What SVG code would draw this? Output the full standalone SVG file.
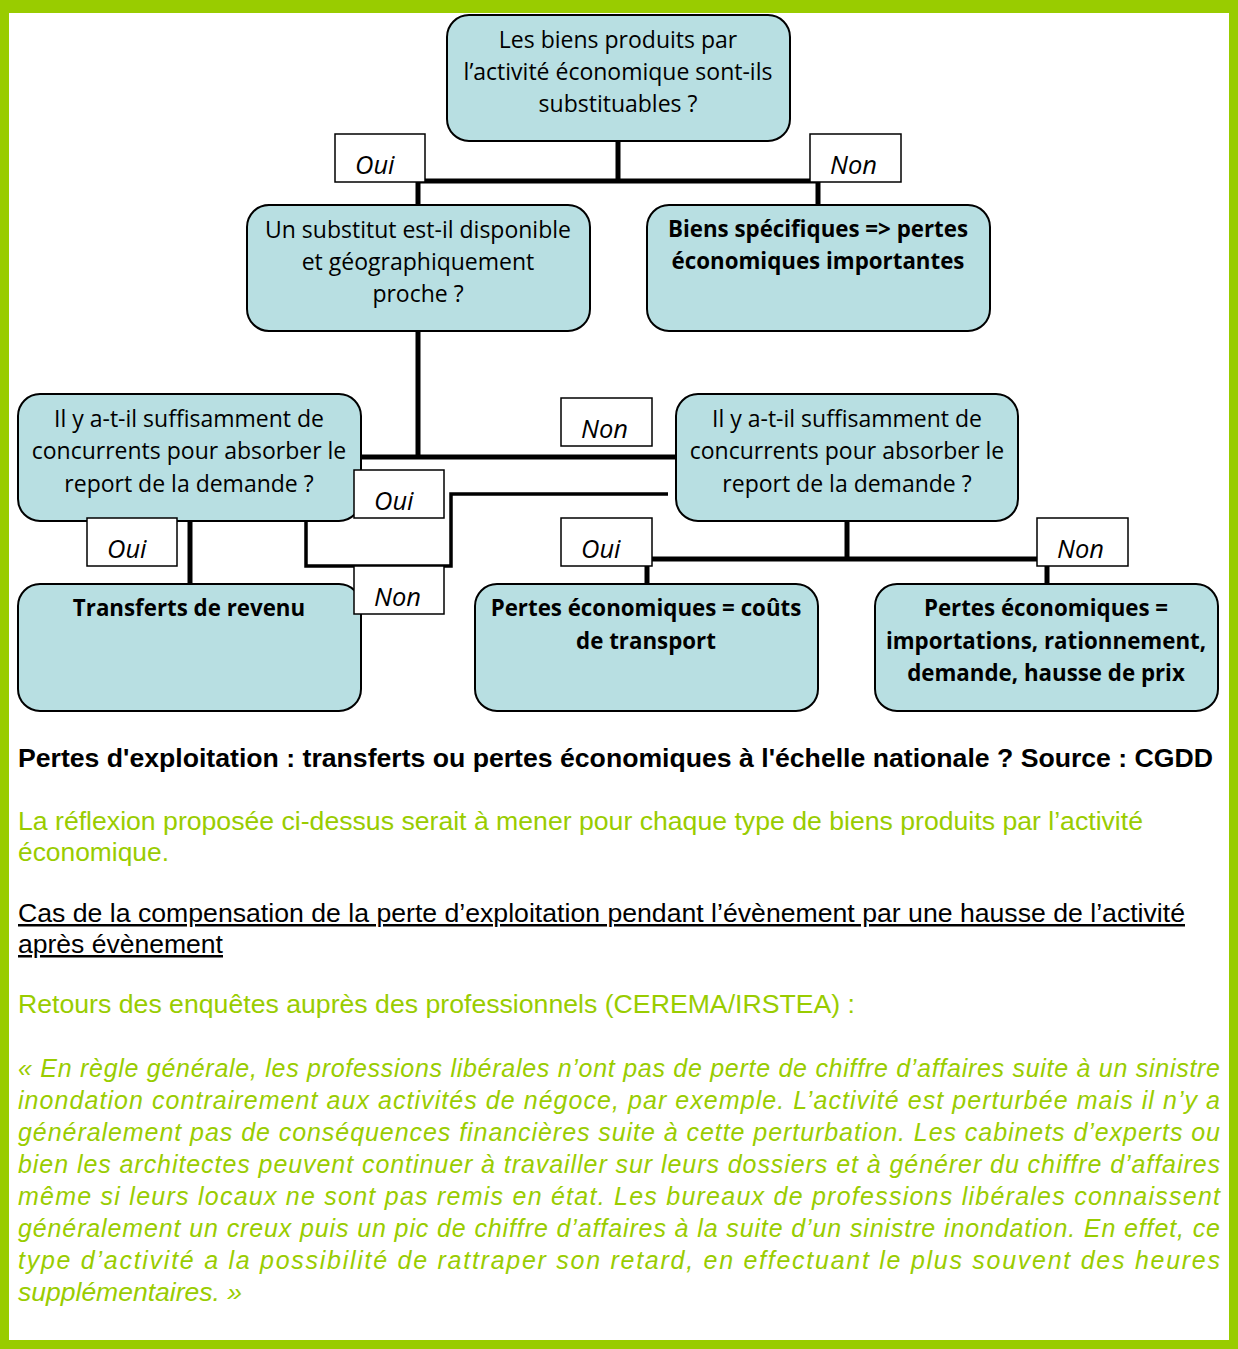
<svg xmlns="http://www.w3.org/2000/svg" width="1238" height="1349" viewBox="0 0 1238 1349">
<style>
.box{fill:#B8DFE2;stroke:#000;stroke-width:2}
.lbl{fill:#fff;stroke:#000;stroke-width:1.5}
.t{font-family:"Open Sans","Noto Sans",sans-serif;font-size:23px;fill:#000;text-anchor:middle}
.tb{font-family:"Open Sans","Noto Sans",sans-serif;font-size:22.3px;font-weight:bold;fill:#000;text-anchor:middle}
.ti{font-family:"Open Sans","Noto Sans",sans-serif;font-size:25.5px;font-style:italic;fill:#000}
.c{stroke:#000;stroke-width:5;fill:none}
.c2{stroke:#000;stroke-width:3.5;fill:none}
.body{font-family:"Liberation Sans",Arial,sans-serif;font-size:25px}
.g{fill:#99CC00}
</style>
<rect x="0" y="0" width="1238" height="1349" fill="#99CC00"/>
<rect x="9" y="13" width="1220" height="1327" fill="#fff"/>

<g id="connectors">
<path class="c" d="M618,141 V181 M416,181 H820 M418,181 V205 M818,181 V205"/>
<path class="c" d="M418,331 V457 M361,457 H676"/>
<path class="c2" d="M668,494 H451 V566 H306 V518"/>
<path class="c" d="M190,521 V584"/>
<path class="c" d="M847,521 V559 M645,559 H1049 M647,559 V584 M1047,559 V584"/>
</g>

<g id="n1"><rect class="box" x="447" y="15" width="343" height="126" rx="22"/>
<text class="t" x="618" y="48">Les biens produits par</text>
<text class="t" x="618" y="80">l’activité économique sont-ils</text>
<text class="t" x="618" y="112">substituables ?</text></g>

<g id="n2"><rect class="box" x="247" y="205" width="343" height="126" rx="22"/>
<text class="t" x="418" y="238">Un substitut est-il disponible</text>
<text class="t" x="418" y="270">et géographiquement</text>
<text class="t" x="418" y="302">proche ?</text></g>

<g id="n3"><rect class="box" x="647" y="205" width="343" height="126" rx="22"/>
<text class="tb" x="818" y="237">Biens spécifiques =&gt; pertes</text>
<text class="tb" x="818" y="269">économiques importantes</text></g>

<g id="n4"><rect class="box" x="18" y="394" width="343" height="127" rx="22"/>
<text class="t" x="189" y="427">Il y a-t-il suffisamment de</text>
<text class="t" x="189" y="459">concurrents pour absorber le</text>
<text class="t" x="189" y="492">report de la demande ?</text></g>

<g id="n5"><rect class="box" x="676" y="394" width="342" height="127" rx="22"/>
<text class="t" x="847" y="427">Il y a-t-il suffisamment de</text>
<text class="t" x="847" y="459">concurrents pour absorber le</text>
<text class="t" x="847" y="492">report de la demande ?</text></g>

<g id="n6"><rect class="box" x="18" y="584" width="343" height="127" rx="22"/>
<text class="tb" x="189" y="616">Transferts de revenu</text></g>

<g id="n7"><rect class="box" x="475" y="584" width="343" height="127" rx="22"/>
<text class="tb" x="646" y="616">Pertes économiques = coûts</text>
<text class="tb" x="646" y="649">de transport</text></g>

<g id="n8"><rect class="box" x="875" y="584" width="343" height="127" rx="22"/>
<text class="tb" x="1046" y="616">Pertes économiques =</text>
<text class="tb" x="1046" y="649">importations, rationnement,</text>
<text class="tb" x="1046" y="681">demande, hausse de prix</text></g>

<g id="l1"><rect class="lbl" x="335" y="134" width="90" height="48"/><text class="ti" x="355" y="174">Oui</text></g>
<g id="l2"><rect class="lbl" x="810" y="134" width="91" height="48"/><text class="ti" x="830" y="174">Non</text></g>
<g id="l3"><rect class="lbl" x="561" y="398" width="91" height="48"/><text class="ti" x="581" y="438">Non</text></g>
<g id="l4"><rect class="lbl" x="354" y="470" width="90" height="48"/><text class="ti" x="374" y="510">Oui</text></g>
<g id="l5"><rect class="lbl" x="87" y="518" width="90" height="48"/><text class="ti" x="107" y="558">Oui</text></g>
<g id="l6"><rect class="lbl" x="354" y="566" width="90" height="48"/><text class="ti" x="374" y="606">Non</text></g>
<g id="l7"><rect class="lbl" x="561" y="518" width="91" height="48"/><text class="ti" x="581" y="558">Oui</text></g>
<g id="l8"><rect class="lbl" x="1037" y="518" width="91" height="48"/><text class="ti" x="1057" y="558">Non</text></g>

<g id="text">
<text class="body" x="18" y="767" font-weight="bold" textLength="1195" lengthAdjust="spacingAndGlyphs">Pertes d'exploitation : transferts ou pertes économiques à l'échelle nationale ? Source : CGDD</text>
<text class="body g" x="18" y="830" textLength="1125" lengthAdjust="spacingAndGlyphs">La réflexion proposée ci-dessus serait à mener pour chaque type de biens produits par l’activité</text>
<text class="body g" x="18" y="861" textLength="151" lengthAdjust="spacingAndGlyphs">économique.</text>
<text class="body" x="18" y="922" text-decoration="underline" textLength="1167" lengthAdjust="spacingAndGlyphs">Cas de la compensation de la perte d’exploitation pendant l’évènement par une hausse de l’activité</text>
<text class="body" x="18" y="953" text-decoration="underline" textLength="205" lengthAdjust="spacingAndGlyphs">après évènement</text>
<text class="body g" x="18" y="1013" textLength="837" lengthAdjust="spacingAndGlyphs">Retours des enquêtes auprès des professionnels (CEREMA/IRSTEA) :</text>
<g class="body g" font-style="italic">
<text x="18" y="1077" textLength="1202" lengthAdjust="spacing">« En règle générale, les professions libérales n’ont pas de perte de chiffre d’affaires suite à un sinistre</text>
<text x="18" y="1109" textLength="1202" lengthAdjust="spacing">inondation contrairement aux activités de négoce, par exemple. L’activité est perturbée mais il n’y a</text>
<text x="18" y="1141" textLength="1202" lengthAdjust="spacing">généralement pas de conséquences financières suite à cette perturbation. Les cabinets d’experts ou</text>
<text x="18" y="1173" textLength="1202" lengthAdjust="spacing">bien les architectes peuvent continuer à travailler sur leurs dossiers et à générer du chiffre d’affaires</text>
<text x="18" y="1205" textLength="1202" lengthAdjust="spacing">même si leurs locaux ne sont pas remis en état. Les bureaux de professions libérales connaissent</text>
<text x="18" y="1237" textLength="1202" lengthAdjust="spacing">généralement un creux puis un pic de chiffre d’affaires à la suite d’un sinistre inondation. En effet, ce</text>
<text x="18" y="1269" textLength="1202" lengthAdjust="spacing">type d’activité a la possibilité de rattraper son retard, en effectuant le plus souvent des heures</text>
<text x="18" y="1301" textLength="224" lengthAdjust="spacingAndGlyphs">supplémentaires. »</text>
</g>
</g>
</svg>
